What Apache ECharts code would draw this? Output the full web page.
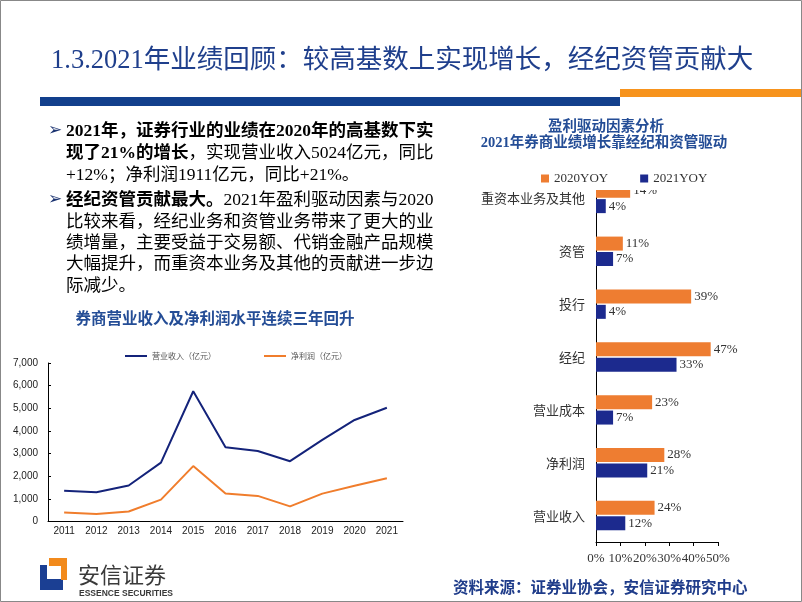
<!DOCTYPE html>
<html>
<head>
<meta charset="utf-8">
<script src="https://cdn.jsdelivr.net/npm/echarts@6/dist/echarts.min.js"></script>
<style>
html,body{margin:0;padding:0;background:#fff;}
#main{width:802px;height:602px;}
</style>
</head>
<body>
<div id="main"></div>
<script>
// ---- data ----
const years = ['2011','2012','2013','2014','2015','2016','2017','2018','2019','2020','2021'];
const revenue = [1359, 1294, 1592, 2602, 5752, 3280, 3113, 2663, 3605, 4485, 5024];
const netProfit = [394, 329, 440, 966, 2448, 1234, 1130, 666, 1231, 1575, 1911];
const lineNames = ['营业收入（亿元）', '净利润（亿元）'];

const driverCats = ['营业收入', '净利润', '营业成本', '经纪', '投行', '资管', '重资本业务及其他'];
const yoy2020 = [24, 28, 23, 47, 39, 11, 14];
const yoy2021 = [12, 21, 7, 33, 4, 7, 4];
const barNames = ['2020YOY', '2021YOY'];

// ---- styles ----
const SERIF = '"Liberation Serif", "Noto Sans CJK SC", serif';
const CJK = '"Noto Sans CJK SC", sans-serif';
const SANS = '"Liberation Sans", Arial, sans-serif';
const NAVY_TXT = '#1f3c80';
const NAVY_LINE = '#14237a';
const ORANGE_LINE = '#f07d2c';
const BAR_OR = '#ee7d31';
const BAR_BL = '#1c2a8e';

const chart = echarts.init(document.getElementById('main'), null, {renderer: 'canvas'});

function txt(x, y, text, opt) {
  return {
    type: 'text', x: x, y: y, z: 10,
    style: Object.assign({
      text: text, fill: NAVY_TXT, font: '17.5px ' + SERIF,
      textAlign: 'left', textVerticalAlign: 'middle'
    }, opt || {})
  };
}

const bodyRich = {
  b: {fontFamily: SERIF, fontSize: 17.5, fontWeight: 'bold', color: '#1a3270'},
  r: {fontFamily: SERIF, fontSize: 17.5, color: '#2a4686'}
};
function richLine(y, str) {
  return {
    type: 'text', x: 66, y: y, z: 10,
    style: {text: str, rich: bodyRich, textAlign: 'left', textVerticalAlign: 'middle'}
  };
}

const graphics = [
  // page border
  {type: 'rect', shape: {x: 0.5, y: 0.5, width: 801, height: 601}, style: {fill: 'none', stroke: '#888', lineWidth: 1}, z: 20},
  // header
  txt(51, 61, '1.3.2021年业绩回顾：较高基数上实现增长，经纪资管贡献大', {font: '26.5px ' + SERIF, fill: '#1f3f8c'}),
  {type: 'rect', shape: {x: 40, y: 97, width: 580, height: 9}, style: {fill: '#123f8c'}},
  {type: 'rect', shape: {x: 620, y: 89, width: 182, height: 8}, style: {fill: '#f7931d'}},
  // bullets
  txt(48, 131, '➢', {font: 'bold 17px "DejaVu Sans"', fill: '#1a3270'}),
  txt(48, 200, '➢', {font: 'bold 17px "DejaVu Sans"', fill: '#1a3270'}),
  richLine(131, '{b|2021年，证券行业的业绩在2020年的高基数下实}'),
  richLine(153, '{b|现了21%的增长}{r|，实现营业收入5024亿元，同比}'),
  richLine(175, '{r|+12%；净利润1911亿元，同比+21%。}'),
  richLine(200, '{b|经纪资管贡献最大。}{r|2021年盈利驱动因素与2020}'),
  richLine(222, '{r|比较来看，经纪业务和资管业务带来了更大的业}'),
  richLine(243.5, '{r|绩增量，主要受益于交易额、代销金融产品规模}'),
  richLine(264.5, '{r|大幅提升，而重资本业务及其他的贡献进一步边}'),
  richLine(286, '{r|际减少。}'),
  // chart titles
  txt(215, 318, '券商营业收入及净利润水平连续三年回升', {font: 'bold 15.5px ' + CJK, fill: '#244d96', textAlign: 'center'}),
  txt(606, 125, '盈利驱动因素分析', {font: 'bold 14.5px ' + CJK, fill: '#244d96', textAlign: 'center'}),
  txt(604, 143, '2021年券商业绩增长靠经纪和资管驱动', {font: 'bold 14.5px ' + SERIF, fill: '#244d96', textAlign: 'center'}),
  // logo
  {type: 'polygon', shape: {points: [[40,565],[47,565],[47,579],[63,579],[63,590],[40,590]]}, style: {fill: '#1b3f93'}},
  {type: 'polygon', shape: {points: [[49,558],[67,558],[67,580],[61,580],[61,566],[49,566]]}, style: {fill: '#f28a1c'}},
  txt(78, 575, '安信证券', {font: '22px ' + CJK, fill: '#3a3a3a'}),
  txt(79, 594, 'ESSENCE SECURITIES', {font: 'bold 8.5px "Liberation Sans Narrow", "Liberation Sans", sans-serif', fill: '#3a3a3a'}),
  // source
  txt(453, 587, '资料来源：证券业协会，安信证券研究中心', {font: 'bold 15.5px ' + CJK, fill: '#1f3c8a'})
];

const option = {
  backgroundColor: '#fff',
  animation: false,
  legend: [
    {
      data: lineNames,
      left: 120, top: 347,
      icon: 'rect', itemWidth: 22, itemHeight: 2, itemGap: 48,
      textStyle: {fontFamily: CJK, fontSize: 8, color: '#555'}
    },
    {
      data: barNames,
      left: 530, top: 166,
      icon: 'rect', itemWidth: 8, itemHeight: 8, itemGap: 32,
      backgroundColor: '#fff',
      padding: [6, 12, 5, 11],
      textStyle: {fontFamily: SERIF, fontSize: 13, color: '#333'}
    }
  ],
  grid: [
    {left: 48, right: 399, top: 363, bottom: 80.5},
    {left: 596, right: 84, top: 172, bottom: 60}
  ],
  xAxis: [
    {
      gridIndex: 0, type: 'category', data: years, boundaryGap: true,
      axisLine: {lineStyle: {color: '#000', width: 1}},
      axisTick: {inside: true, length: 4, lineStyle: {color: '#000'}},
      axisLabel: {fontFamily: SANS, fontSize: 10, color: '#222', margin: 5}
    },
    {
      gridIndex: 1, type: 'value', min: 0, max: 50, interval: 10,
      axisLine: {show: true, lineStyle: {color: '#000', width: 1}},
      axisTick: {show: true, length: 4, lineStyle: {color: '#000'}},
      splitLine: {show: false},
      axisLabel: {fontFamily: SERIF, fontSize: 13, color: '#333', margin: 10, formatter: '{value}%'}
    }
  ],
  yAxis: [
    {
      gridIndex: 0, type: 'value', min: 0, max: 7000, interval: 1000,
      axisLine: {show: true, lineStyle: {color: '#000', width: 1}},
      axisTick: {show: true, inside: true, length: 3, lineStyle: {color: '#000'}},
      splitLine: {show: false},
      axisLabel: {fontFamily: SANS, fontSize: 10, color: '#222', margin: 10,
        formatter: v => v.toLocaleString('en-US')}
    },
    {
      gridIndex: 1, type: 'category', data: driverCats,
      axisLine: {lineStyle: {color: '#000', width: 1}},
      axisTick: {inside: true, length: 4, lineStyle: {color: '#000'}},
      axisLabel: {fontFamily: CJK, fontSize: 13, color: '#333', margin: 11}
    }
  ],
  series: [
    {
      name: lineNames[0], type: 'line', xAxisIndex: 0, yAxisIndex: 0,
      data: revenue, symbol: 'none', color: NAVY_LINE,
      lineStyle: {width: 2, color: NAVY_LINE}
    },
    {
      name: lineNames[1], type: 'line', xAxisIndex: 0, yAxisIndex: 0,
      data: netProfit, symbol: 'none', color: ORANGE_LINE,
      lineStyle: {width: 2, color: ORANGE_LINE}
    },
    {
      name: barNames[0], type: 'bar', xAxisIndex: 1, yAxisIndex: 1,
      data: yoy2020, color: BAR_OR, barWidth: 14, barGap: '10%',
      label: {show: true, position: 'right', distance: 3, formatter: '{c}%',
        fontFamily: SERIF, fontSize: 13, color: '#333'}
    },
    {
      name: barNames[1], type: 'bar', xAxisIndex: 1, yAxisIndex: 1,
      data: yoy2021, color: BAR_BL, barWidth: 14, barGap: '10%',
      label: {show: true, position: 'right', distance: 3, formatter: '{c}%',
        fontFamily: SERIF, fontSize: 13, color: '#333'}
    }
  ],
  graphic: graphics
};
chart.setOption(option);
</script>
</body>
</html>
